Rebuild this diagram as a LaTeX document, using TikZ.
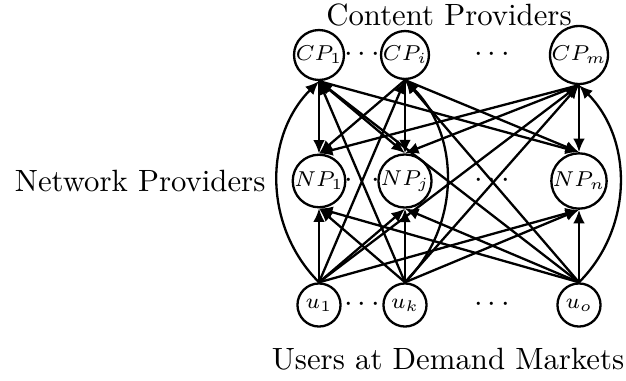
\documentclass[tikz,border=0pt]{standalone}
\usetikzlibrary{arrows.meta}
\begin{document}
\begin{tikzpicture}[x=0.325pt,y=-0.325pt,
  nd/.style={circle,draw,line width=0.75pt,minimum size=14pt,inner sep=0pt,font=\scriptsize},
  ar/.style={line width=0.75pt,-{Latex[length=4.4pt,width=3.8pt]}},
  dt/.style={inner sep=0pt}]
\useasboundingbox (0,0) rectangle (626,381);
% nodes
\node[nd] (CP1) at (319,55) {$CP_1$};
\node[nd] (CPi) at (405,55) {$CP_i$};
\node[nd] (CPm) at (579,55) {$CP_m$};
\node[nd] (NP1) at (319,181) {$NP_1$};
\node[nd] (NPj) at (405,181) {$NP_j$};
\node[nd] (NPn) at (579,181) {$NP_n$};
\node[nd] (u1) at (319,305) {$u_1$};
\node[nd] (uk) at (405,305) {$u_k$};
\node[nd] (uo) at (579,305) {$u_o$};
% dots
\node[dt] (d1) at (362,55) {$\cdots$};
\node[dt] (d2) at (492,55) {$\cdots$};
\node[dt] (d3) at (362,181) {$\cdots$};
\node[dt] (d4) at (492,181) {$\cdots$};
\node[dt] (d5) at (362,305) {$\cdots$};
\node[dt] (d6) at (492,305) {$\cdots$};
% labels
\node (tcp) at (449,15) {Content Providers};
\node[anchor=east,inner sep=0pt] (tnp) at (266,181) {Network Providers};
\node (tu) at (448,359) {Users at Demand Markets};
% CP -> NP
\foreach \c in {CP1,CPi,CPm}{
  \foreach \n in {NP1,NPj,NPn}{
    \draw[ar] (\c.south) -- (\n.north);
  }
}
% u -> NP
\foreach \u in {u1,uk,uo}{
  \foreach \n in {NP1,NPj,NPn}{
    \draw[ar] (\u.north) -- (\n.south);
  }
}
% u -> CP straight
\draw[ar] (u1.north) -- (CPi.south);
\draw[ar] (u1.north) -- (CPm.south);
\draw[ar] (uk.north) -- (CP1.south);
\draw[ar] (uk.north) -- (CPm.south);
\draw[ar] (uo.north) -- (CP1.south);
\draw[ar] (uo.north) -- (CPi.south);
% u -> CP curved
\draw[ar] (u1.north) to[bend left=45] (CP1.south);
\draw[ar] (uk.north) to[bend right=45] (CPi.south);
\draw[ar] (uo.north) to[bend right=45] (CPm.south);
\end{tikzpicture}
\end{document}
